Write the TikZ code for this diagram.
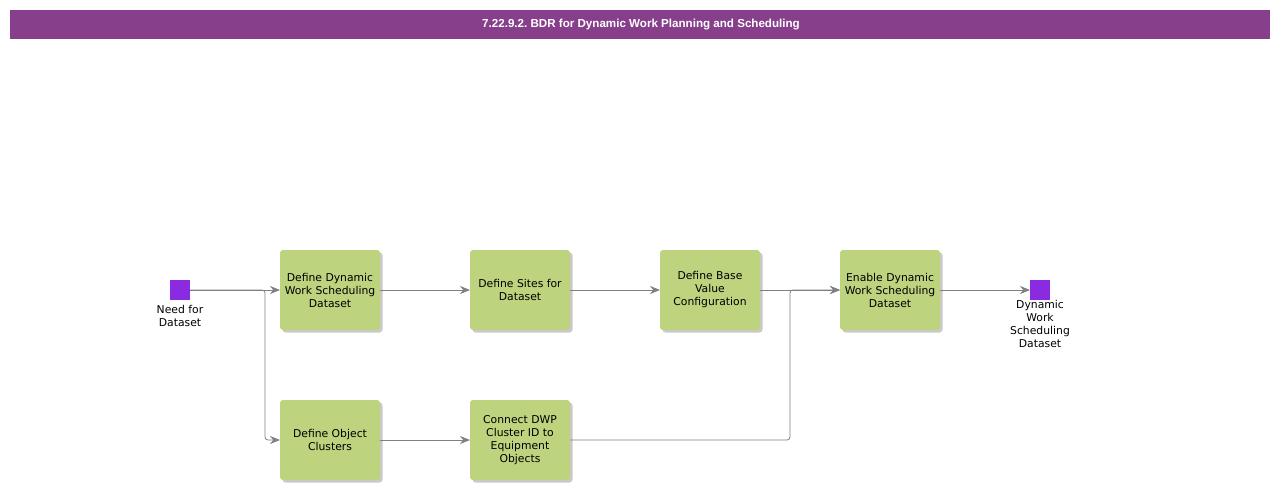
\documentclass[tikz,border=0pt]{standalone}
\usepackage{fontspec}
\setmainfont{DejaVu Sans}
\newfontfamily\titlefont{Liberation Sans}
\usepackage{tikz}
\usetikzlibrary{arrows.meta,positioning,shadows}

\definecolor{bdrpurple}{HTML}{873F8C}
\definecolor{taskgreen}{HTML}{BDD37D}
\definecolor{eventviolet}{HTML}{8A2BE2}
\definecolor{linegray}{HTML}{808080}
\frenchspacing

\begin{document}
\begin{tikzpicture}[x=1pt, y=1pt, node distance=90pt,
	every node/.style={font=\fontsize{10.8}{13}\selectfont, outer sep=0pt},
	task/.style={rectangle, rounded corners=3pt, fill=taskgreen, minimum width=100pt, minimum height=80pt,
		align=center, inner sep=0pt,
		drop shadow={shadow xshift=2.5pt, shadow yshift=-2.5pt, fill=black!35, opacity=0.6}},
	event/.style={rectangle, fill=eventviolet, minimum size=20pt, inner sep=0pt},
	flow/.style={draw=linegray, line width=0.8pt, rounded corners=3pt, -{Stealth[length=10pt,width=8pt,fill=linegray]}}]
	\useasboundingbox (0,0) rectangle (1280,-490);
	% header
	\fill[bdrpurple] (10,-10) rectangle (1270,-39);
	\node[text=white, font=\titlefont\bfseries\fontsize{11.6}{13}\selectfont] (title) at (641,-24.5) {7.22.9.2. BDR for Dynamic Work Planning and Scheduling};
	% upper row
	\node[task] (dataset) at (330,-290) {Define Dynamic\\Work Scheduling\\Dataset};
	\node[task, right=of dataset] (sites) {Define Sites for\\Dataset};
	\node[task, right=of sites] (basevalue) {Define Base\\Value\\Configuration};
	\node[task, right=80pt of basevalue] (enable) {Enable Dynamic\\Work Scheduling\\Dataset};
	% lower row
	\node[task, below=70pt of dataset] (clusters) {Define Object\\Clusters};
	\node[task, right=of clusters] (connect) {Connect DWP\\Cluster ID to\\Equipment\\Objects};
	% events
	\node[event, left=of dataset] (need) {};
	\node[below=2pt of need, align=center] (needlbl) {Need for\\Dataset};
	\node[event, right=of enable] (done) {};
	\node[below=-3pt of done, align=center] (donelbl) {Dynamic\\Work\\Scheduling\\Dataset};
	% connectors
	\draw[flow] (need) -- (dataset);
	\draw[flow] (need.east) -| (265,-440) -- (clusters.west);
	\draw[flow] (dataset) -- (sites);
	\draw[flow] (sites) -- (basevalue);
	\draw[flow] (basevalue) -- (enable);
	\draw[flow] (clusters) -- (connect);
	\draw[flow] (connect.east) -| (790,-290) -- (enable.west);
	\draw[flow] (enable) -- (done);
\end{tikzpicture}
\end{document}
